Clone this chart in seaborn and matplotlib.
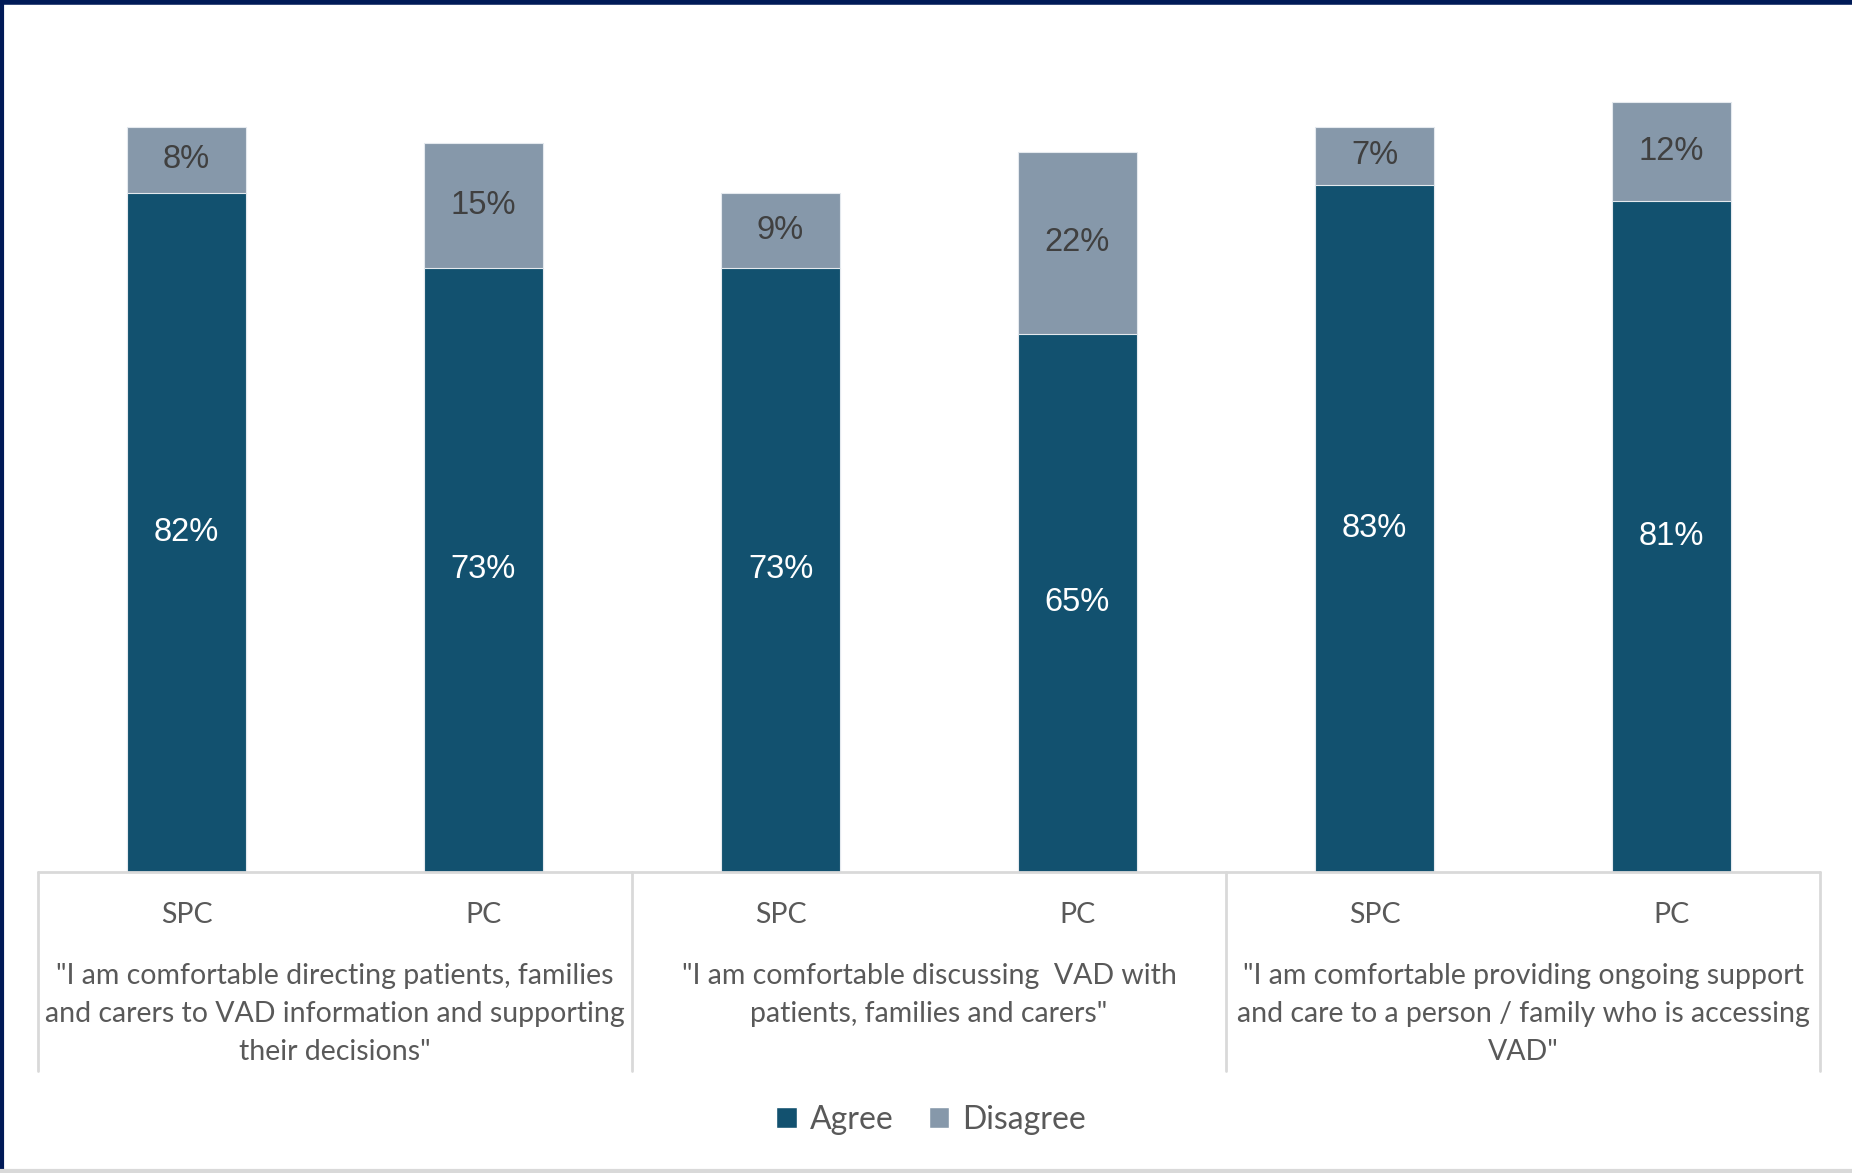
import matplotlib
matplotlib.use("Agg")
import matplotlib.pyplot as plt
from matplotlib.patches import Patch
import seaborn as sns
import pandas as pd

# Data
groups = ['SPC', 'PC', 'SPC', 'PC', 'SPC', 'PC']
agree = [82, 73, 73, 65, 83, 81]
disagree = [8, 15, 9, 22, 7, 12]
statements = [
    '"I am comfortable directing patients, families\nand carers to VAD information and supporting\ntheir decisions"',
    '"I am comfortable discussing  VAD with\npatients, families and carers"',
    '"I am comfortable providing ongoing support\nand care to a person / family who is accessing\nVAD"',
]

AGREE_C = '#12516f'
DIS_C = '#8698aa'
TICK_C = '#595959'

df = pd.DataFrame({'slot': [f'{g}{i}' for i, g in enumerate(groups)],
                   'group': groups, 'agree': agree, 'disagree': disagree})
df['total'] = df['agree'] + df['disagree']

sns.set_style('white')
plt.rcParams['font.family'] = ['Lato', 'DejaVu Sans']

fig = plt.figure(figsize=(18.52, 11.73), dpi=100)
ax = fig.add_axes([38 / 1852, 1 - 872 / 1173, 1782 / 1852, 828 / 1173])

# stacked look: totals in grey, agree drawn on top
sns.barplot(data=df, x='slot', y='total', color=DIS_C, width=0.4, ax=ax,
            saturation=1, edgecolor='#e4e9ee', linewidth=0.8)
sns.barplot(data=df, x='slot', y='agree', color=AGREE_C, width=0.4, ax=ax,
            saturation=1, edgecolor='#e4e9ee', linewidth=0.8)

for i, row in df.iterrows():
    ax.text(i, row['agree'] / 2, f"{row['agree']}%", ha='center', va='center',
            color='white', fontsize=23.5, family='Liberation Sans')
    ax.text(i, row['agree'] + row['disagree'] / 2, f"{row['disagree']}%",
            ha='center', va='center', color='#404040', fontsize=23.5,
            family='Liberation Sans')

ax.set_xlim(-0.5, 5.5)
ax.set_ylim(0, 100)
ax.set_xlabel('')
ax.set_ylabel('')
ax.set_yticks([])
ax.set_xticks([])
for s in ['top', 'right', 'left', 'bottom']:
    ax.spines[s].set_visible(False)

trans = ax.get_xaxis_transform()
line_kw = dict(color='#d9d9d9', lw=2, transform=trans, clip_on=False)
ax.plot([-0.5, 5.5], [0, 0], **line_kw)
for xv in [-0.5, 1.5, 3.5, 5.5]:
    ax.plot([xv, xv], [0, -199 / 828], **line_kw)

for i, g in enumerate(groups):
    ax.text(i, -43 / 828, g, transform=trans, ha='center', va='center',
            fontsize=20.5, color=TICK_C)
for k, s in enumerate(statements):
    ax.text(2 * k + 0.5, -91 / 828, s, transform=trans, ha='center', va='top',
            fontsize=20.5, color=TICK_C, linespacing=1.58)

handles = [Patch(facecolor=AGREE_C, label='Agree'),
           Patch(facecolor=DIS_C, label='Disagree')]
fig.legend(handles=handles, loc='center', bbox_to_anchor=(931 / 1852, 1 - 1120 / 1173),
           ncol=2, frameon=False, fontsize=23, handlelength=0.65, handleheight=0.65,
           handletextpad=0.4, columnspacing=1.1, labelcolor=TICK_C)

# slide frame
fig.add_artist(plt.Line2D([0, 1], [1 - 2 / 1173, 1 - 2 / 1173], color='#001a57', lw=4,
                          transform=fig.transFigure))
fig.add_artist(plt.Line2D([1.5 / 1852, 1.5 / 1852], [0, 1], color='#001a57', lw=3,
                          transform=fig.transFigure))
fig.add_artist(plt.Line2D([0, 1], [2 / 1173, 2 / 1173], color='#d9d9d9', lw=3,
                          transform=fig.transFigure))

fig.savefig('out.png', dpi=100)
